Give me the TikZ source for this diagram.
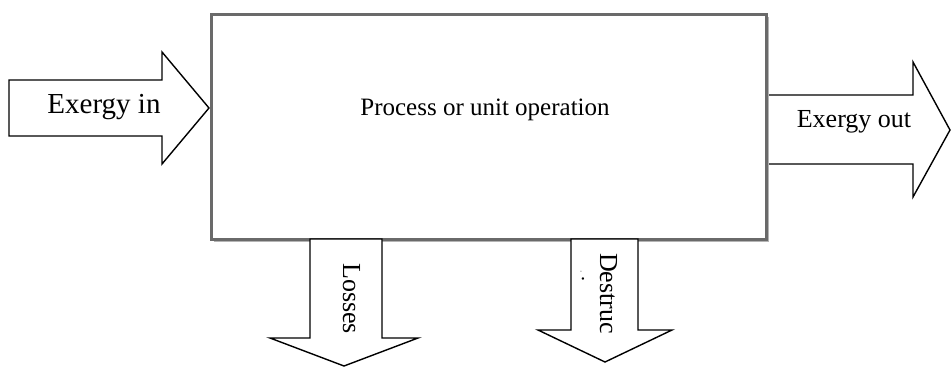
\documentclass[tikz,border=0pt]{standalone}
\usepackage{fontspec}
\setmainfont{Liberation Serif}
\definecolor{boxgray}{HTML}{6A6A6A}
\definecolor{shadowgray}{HTML}{B4B4B4}
\tikzset{
  blockarrow/.style={draw=black, line width=1.4pt, fill=white, line join=miter},
  lbl/.style={inner sep=0pt, font=\fontsize{26}{30}\selectfont},
}
\begin{document}
\begin{tikzpicture}[x=1pt,y=-1pt]
\useasboundingbox (0,0) rectangle (952,367);
% Exergy out arrow (left edge hidden under the box)
\draw[blockarrow] (765,95) -- (913,95) -- (913,62) -- (950,130) -- (913,197) -- (913,164) -- (765,164) -- cycle;
% shadow and box
\fill[shadowgray] (213.5,16.5) rectangle (768.5,241.5);
\node[draw=boxgray, line width=2.5pt, fill=white, minimum width=555pt, minimum height=225pt, inner sep=0pt, anchor=north west] (proc) at (210,13) {};
\node[lbl, anchor=base, font=\fontsize{25}{30}\selectfont] (ptext) at (485,115) {Process or unit operation};
% Exergy in arrow
\draw[blockarrow] (9,80) -- (162,80) -- (162,52) -- (209,108) -- (162,164) -- (162,136) -- (9,136) -- cycle;
\node[lbl, anchor=base, font=\fontsize{29}{34}\selectfont] (ein) at (104,113) {Exergy in};
\node[lbl, anchor=base] (eout) at (854,127) {Exergy out};
% Losses arrow
\draw[blockarrow] (310,239) -- (382,239) -- (382,338) -- (418,338) -- (344,366) -- (270,338) -- (310,338) -- cycle;
\node[lbl, rotate=-90, anchor=base west] (loss) at (343,263) {Losses};
% Destruction arrow
\draw[blockarrow] (571,239) -- (638,239) -- (638,330) -- (672,330) -- (605,362) -- (538,330) -- (571,330) -- cycle;
\node[lbl, rotate=-90, anchor=base west] (dest) at (600,253) {Destruc};
\node[inner sep=0pt, rotate=-90, font=\fontsize{20}{24}\selectfont] (dot) at (583,279) {.};
\node[inner sep=0pt, rotate=-90, text=gray, font=\fontsize{10}{12}\selectfont] (dot2) at (581,272) {.};
\end{tikzpicture}
\end{document}
